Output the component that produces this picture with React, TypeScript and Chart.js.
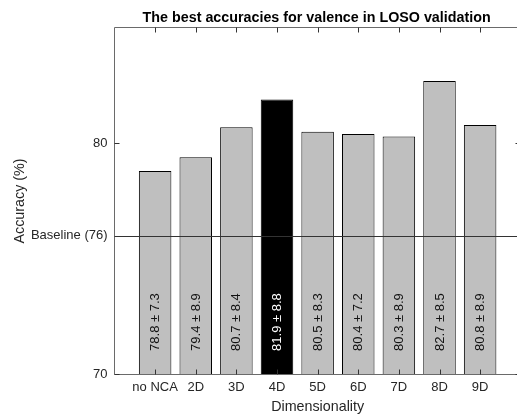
import React, { useEffect, useRef } from 'react';
import { Chart, registerables } from 'chart.js';

Chart.register(...registerables);

const categories = ['no NCA', '2D', '3D', '4D', '5D', '6D', '7D', '8D', '9D'];
const means = [78.8, 79.4, 80.7, 81.9, 80.5, 80.4, 80.3, 82.7, 80.8];
const sds = [7.3, 8.9, 8.4, 8.8, 8.3, 7.2, 8.9, 8.5, 8.9];
const barColors = ['#bfbfbf', '#bfbfbf', '#bfbfbf', '#000000', '#bfbfbf', '#bfbfbf', '#bfbfbf', '#bfbfbf', '#bfbfbf'];
const labelColors = ['#111111', '#111111', '#111111', '#ffffff', '#111111', '#111111', '#111111', '#111111', '#111111'];
const baseline = 76;
const yTickValues = [70, 76, 80];
const yMin = 70;
const yMax = 85;
const labelStart = 71;
const titleText = 'The best accuracies for valence in LOSO validation';
const xTitleText = 'Dimensionality';
const yTitleText = 'Accuracy (%)';

const FONT = '"Liberation Sans", Arial, Helvetica, sans-serif';
const TEXT = '#262626';
const AXIS = '#6a6a6a';

const overlay = {
  id: 'overlay',
  afterDatasetsDraw(chart: any) {
    const { ctx, chartArea: a, scales } = chart;
    const x = scales.x;
    const y = scales.y;
    ctx.save();
    // baseline line
    const by = Math.round(y.getPixelForValue(baseline)) + 0.5;
    ctx.strokeStyle = '#333333';
    ctx.lineWidth = 1;
    ctx.beginPath();
    ctx.moveTo(a.left, by);
    ctx.lineTo(a.right, by);
    ctx.stroke();

    // value labels
    ctx.font = `13px ${FONT}`;
    ctx.textAlign = 'left';
    ctx.textBaseline = 'middle';
    means.forEach((m, i) => {
      const px = x.getPixelForValue(i + 1);
      const py = y.getPixelForValue(labelStart);
      ctx.save();
      ctx.translate(px + 0.5, py);
      ctx.rotate(-Math.PI / 2);
      ctx.fillStyle = labelColors[i];
      ctx.fillText(`${m.toFixed(1)} ± ${sds[i].toFixed(1)}`, 0, 0);
      ctx.restore();
    });

    // frame
    const l = Math.round(a.left) - 0.5;
    const r = Math.round(a.right) - 0.5;
    const t = Math.round(a.top) - 0.5;
    const b = Math.round(a.bottom) + 0.5;
    ctx.strokeStyle = AXIS;
    ctx.beginPath();
    ctx.moveTo(l, t);
    ctx.lineTo(r, t);
    ctx.lineTo(r, b);
    ctx.lineTo(l, b);
    ctx.closePath();
    ctx.stroke();

    // inward ticks
    ctx.strokeStyle = '#333333';
    ctx.beginPath();
    for (let i = 1; i <= categories.length; i++) {
      const px = Math.round(x.getPixelForValue(i)) + 0.5;
      ctx.moveTo(px, t);
      ctx.lineTo(px, t + 5);
      ctx.moveTo(px, b);
      ctx.lineTo(px, b - 5);
    }
    yTickValues.forEach((v) => {
      const py = Math.round(y.getPixelForValue(v)) + 0.5;
      ctx.moveTo(l, py);
      ctx.lineTo(l + 5, py);
      ctx.moveTo(r, py);
      ctx.lineTo(r - 5, py);
    });
    ctx.stroke();
    ctx.restore();
  },
  afterDraw(chart: any) {
    const { ctx, chartArea: a } = chart;
    const cx = (a.left + a.right) / 2;
    const cy = (a.top + a.bottom) / 2;
    ctx.save();
    ctx.fillStyle = '#000000';
    ctx.font = `bold 14.3px ${FONT}`;
    ctx.textAlign = 'center';
    ctx.textBaseline = 'alphabetic';
    ctx.fillText(titleText, cx - 1, 21.5);

    ctx.fillStyle = TEXT;
    ctx.font = `14.3px ${FONT}`;
    ctx.fillText(xTitleText, cx, 410.5);

    ctx.translate(24, cy);
    ctx.rotate(-Math.PI / 2);
    ctx.fillText(yTitleText, 0, 0);
    ctx.restore();
  },
};

export default function App() {
  const canvasRef = useRef<HTMLCanvasElement | null>(null);

  useEffect(() => {
    const canvas = canvasRef.current;
    if (!canvas) return;
    const chart = new Chart(canvas, {
      type: 'bar',
      data: {
        datasets: [
          {
            data: means.map((m, i) => ({ x: i + 1, y: m })),
            backgroundColor: barColors,
            borderColor: '#000000',
            borderWidth: 1,
            barPercentage: 0.8,
            categoryPercentage: 1,
          },
        ],
      },
      options: {
        animation: false,
        responsive: false,
        devicePixelRatio: 1,
        layout: { padding: { left: 0, top: 28, right: 9.25, bottom: 0 } },
        plugins: {
          legend: { display: false },
          tooltip: { enabled: false },
          title: { display: false },
        },
        scales: {
          x: {
            type: 'linear',
            min: 0,
            max: 10,
            offset: false,
            grid: { display: false, drawTicks: false },
            border: { display: false },
            afterBuildTicks: (s: any) => {
              s.ticks = categories.map((_, i) => ({ value: i + 1 }));
            },
            afterFit: (s: any) => {
              s.height = 43;
            },
            ticks: {
              autoSkip: false,
              maxRotation: 0,
              padding: 6,
              color: TEXT,
              font: { family: FONT, size: 13 },
              callback: (v: any) => categories[Number(v) - 1] ?? '',
            },
          },
          y: {
            min: yMin,
            max: yMax,
            grid: { display: false, drawTicks: false },
            border: { display: false },
            afterBuildTicks: (s: any) => {
              s.ticks = yTickValues.map((v) => ({ value: v }));
            },
            afterFit: (s: any) => {
              s.width = 114.5;
            },
            ticks: {
              padding: 7,
              color: TEXT,
              font: { family: FONT, size: 13 },
              callback: (v: any) => (Number(v) === baseline ? `Baseline (${baseline})` : String(v)),
            },
          },
        },
      } as any,
      plugins: [overlay],
    });
    return () => chart.destroy();
  }, []);

  return (
    <div
      style={{
        position: 'fixed',
        left: 0,
        top: 0,
        width: 517,
        height: 417,
        overflow: 'hidden',
        background: '#ffffff',
      }}
    >
      <canvas ref={canvasRef} width={530} height={417} style={{ width: 530, height: 417, display: 'block' }} />
    </div>
  );
}
